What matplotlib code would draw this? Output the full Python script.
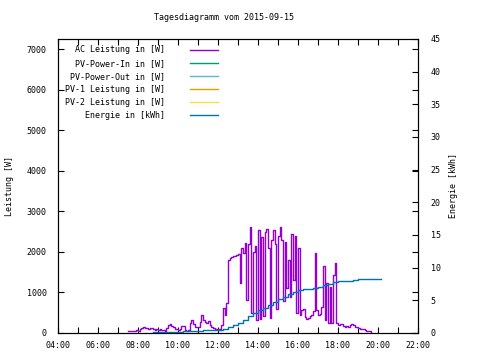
## tagesdiagramm pv-anlage, nachgebaut im gnuplot-stil
import numpy as np
import matplotlib.pyplot as plt
from matplotlib.ticker import MultipleLocator

## AC leistung in W, alle 5 minuten ab 07:30
ac_start = "07:30"
ac_step_min = 5
ac_watt = [
    40, 60, 50, 60, 40, 70,                                              # 07:30
    50, 90, 120, 140, 130, 120, 110, 130, 120, 90, 80, 90,               # 08:00
    80, 90, 70, 80, 60, 120, 190, 210, 180, 150, 100, 90,                # 09:00
    80, 110, 180, 170, 80, 60, 70, 240, 330, 230, 160, 140,              # 10:00
    150, 280, 450, 330, 280, 250, 300, 200, 150, 120, 110, 90,           # 11:00
    100, 80, 200, 620, 450, 750, 1800, 1860, 1880, 1900, 1910, 1930,     # 12:00
    1950, 1230, 2100, 1980, 2220, 810, 2200, 2610, 490, 2000, 2150, 320, # 13:00
    2540, 350, 2370, 420, 2480, 2560, 2100, 380, 2300, 2540, 2200, 600,  # 14:00
    2400, 2610, 2300, 800, 2250, 1100, 1800, 890, 2450, 1300, 2400, 500, # 15:00
    2100, 450, 560, 600, 400, 350, 380, 420, 450, 550, 1970, 560,        # 16:00
    450, 470, 650, 1640, 320, 1230, 250, 1130, 250, 1430, 1730, 250,     # 17:00
    200, 220, 230, 180, 160, 170, 150, 200, 210, 190, 160, 140,          # 18:00
    120, 110, 100, 90, 70, 60, 50, 40, 20,                               # 19:00
]

## energie in kWh
energie_zeit = ["08:45", "09:00", "09:15", "09:30", "09:45", "10:00", "10:15", "10:30",
                "10:45", "11:00", "11:15", "11:30", "11:45", "12:00", "12:15", "12:30",
                "12:45", "13:00", "13:15", "13:30", "13:45", "14:00", "14:15", "14:30",
                "14:45", "15:00", "15:15", "15:30", "15:45", "16:00", "16:15", "16:30",
                "16:45", "17:00", "17:15", "17:30", "17:45", "18:00", "18:15", "18:30",
                "18:45", "19:00", "19:15", "19:30", "19:45", "20:00", "20:10"]
energie_kwh = [0.1, 0.1, 0.1, 0.1, 0.1, 0.1, 0.26, 0.26,
               0.26, 0.26, 0.41, 0.41, 0.41, 0.5, 0.57, 0.85,
               1.2, 1.55, 2.0, 2.55, 3.05, 3.45, 3.85, 4.3,
               4.7, 5.15, 5.55, 5.9, 6.3, 6.6, 6.75, 6.8,
               6.9, 7.1, 7.3, 7.5, 7.75, 7.9, 8.0, 8.02,
               8.04, 8.2, 8.2, 8.2, 8.2, 8.2, 8.2]

x_ticks = ["04:00", "06:00", "08:00", "10:00", "12:00", "14:00", "16:00", "18:00", "20:00", "22:00"]

labels = ["AC Leistung in [W]", "PV-Power-In in [W]", "PV-Power-Out in [W]",
          "PV-1 Leistung in [W]", "PV-2 Leistung in [W]", "Energie in [kWh]"]
colors = ["#9400d3", "#009e73", "#56b4e9", "#e69f00", "#f0e442", "#0072b2"]

def to_hours(s):
    h, m = s.split(":")
    return int(h) + int(m) / 60.0

ac_t = to_hours(ac_start) + np.arange(len(ac_watt)) * ac_step_min / 60.0
en_t = np.array([to_hours(s) for s in energie_zeit])

plt.rcParams['font.family'] = ['DejaVu Sans Mono']
plt.rcParams['font.size'] = 6

fig = plt.figure(figsize=(4.8, 3.6), dpi=100)
ax = fig.add_axes([58/480, 1-333/360, 360/480, 294/360])
ax2 = ax.twinx()

l_ac, = ax.plot(ac_t, ac_watt, color=colors[0], lw=1.0, drawstyle='steps-post')
l_in, = ax.plot([], [], color=colors[1], lw=1.0)
l_out, = ax.plot([], [], color=colors[2], lw=1.0)
l_p1, = ax.plot([], [], color=colors[3], lw=1.0)
l_p2, = ax.plot([], [], color=colors[4], lw=1.0)
l_en, = ax2.plot(en_t, energie_kwh, color=colors[5], lw=1.0, drawstyle='steps-post')

ax.set_xlim(4, 22)
ax.set_ylim(0, 7250)
ax2.set_ylim(0, 45)

ax.set_xticks([to_hours(s) for s in x_ticks])
ax.set_xticklabels(x_ticks)
ax.xaxis.set_minor_locator(MultipleLocator(1))
ax.set_yticks(np.arange(0, 7001, 1000))
ax2.set_yticks(np.arange(0, 46, 5))

ax.tick_params(axis='x', which='both', direction='in', top=True, length=4, width=0.8, pad=6)
ax.tick_params(axis='x', which='minor', length=4)
ax.tick_params(axis='y', direction='in', right=True, length=4, width=0.8, pad=8)
ax2.tick_params(axis='y', direction='in', length=4, width=0.8, pad=9)
for a in (ax, ax2):
    for sp in a.spines.values():
        sp.set_linewidth(0.8)

ax.set_ylabel("Leistung [W]")
ax.yaxis.set_label_coords(-0.122, 0.5)
ax2.set_ylabel("Energie [kWh]")
ax2.yaxis.set_label_coords(1.086, 0.5)
fig.text(223.5/480, 1-18/360, "Tagesdiagramm vom 2015-09-15", ha='center', va='center')

ax2.legend([l_ac, l_in, l_out, l_p1, l_p2, l_en], labels, loc='upper right',
           bbox_to_anchor=(0.444, 0.978), frameon=False, markerfirst=False,
           borderpad=0, borderaxespad=0, handlelength=3.4, handletextpad=3.0,
           labelspacing=0.5)

fig.savefig("out.png", dpi=100)
